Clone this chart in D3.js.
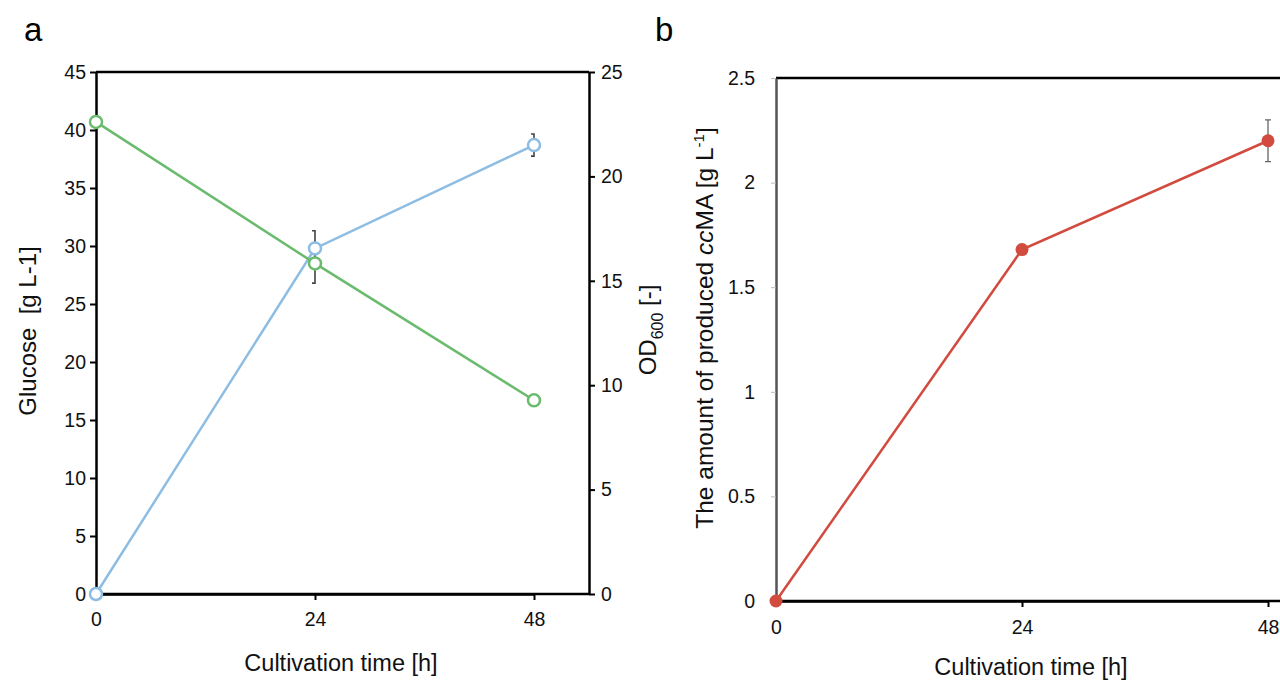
<!DOCTYPE html>
<html>
<head>
<meta charset="utf-8">
<script src="https://cdn.jsdelivr.net/npm/d3@7"></script>
<style>
  body { margin: 0; background: #fff; }
  svg { font-family: "Liberation Sans", Arial, sans-serif; }
</style>
</head>
<body>
<svg width="1280" height="682"></svg>
<script>
// time points (h)
var hours = [0, 24, 48];
// panel a: glucose (g/L) and OD600
var glucose = [40.7, 28.5, 16.7];
var glucoseErr = [0, 1.7, 0];
var od600 = [0, 16.55, 21.5];
var odErr = [0, 0.85, 0.53];
// panel b: ccMA produced (g/L)
var ccma = [0, 1.68, 2.2];
var ccmaErr = [0, 0, 0.1];

var xTicks = [0, 24, 48];
var glucoseTicks = [0, 5, 10, 15, 20, 25, 30, 35, 40, 45];
var odTicks = [0, 5, 10, 15, 20, 25];
var ccmaTicks = [0, 0.5, 1, 1.5, 2, 2.5];

var TICK_FS = 19.5;
var svg = d3.select('svg');

// ---------- panel a ----------
var ax = d3.scaleLinear().domain([0, 48]).range([96, 534]);
var ayL = d3.scaleLinear().domain([0, 45]).range([594, 72]);
var ayR = d3.scaleLinear().domain([0, 25]).range([594, 72]);
var aRight = 589;

var ga = svg.append('g');

// top border
ga.append('line').attr('x1', 96).attr('x2', aRight).attr('y1', 72).attr('y2', 72)
  .attr('stroke', '#000').attr('stroke-width', 2.5);

var axL = ga.append('g').attr('transform', 'translate(96,0)')
  .call(d3.axisLeft(ayL).tickValues(glucoseTicks).tickSize(6).tickSizeOuter(0));
var axR = ga.append('g').attr('transform', 'translate(' + aRight + ',0)')
  .call(d3.axisRight(ayR).tickValues(odTicks).tickSize(6).tickSizeOuter(0));
var axB = ga.append('g').attr('transform', 'translate(0,594)')
  .call(d3.axisBottom(ax).tickValues(xTicks).tickSize(6).tickSizeOuter(0));
// extend bottom axis to right border
ga.append('line').attr('x1', 96).attr('x2', aRight).attr('y1', 594).attr('y2', 594)
  .attr('stroke', '#000').attr('stroke-width', 2.5);

[axL, axR, axB].forEach(function(g){
  g.select('.domain').attr('stroke', '#000').attr('stroke-width', 2.5);
  g.selectAll('.tick line').attr('stroke', '#000').attr('stroke-width', 2);
  g.selectAll('.tick text').attr('font-size', TICK_FS).attr('fill', '#111')
    .attr('font-family', '"Liberation Sans", Arial, sans-serif');
});
axL.selectAll('.tick text').attr('x', -10);
axR.selectAll('.tick text').attr('x', 12);
axB.selectAll('.tick text').attr('y', 18);

// error bars (drawn beneath markers)
function errBars(g, xs, ys, errs, x, y, color) {
  hours.forEach(function(h, i){
    if (!errs[i]) return;
    var cx = x(h), y1 = y(ys[i] + errs[i]), y2 = y(ys[i] - errs[i]);
    g.append('path')
      .attr('d', 'M' + (cx - 3) + ',' + y1 + 'H' + cx + 'V' + y2 + 'H' + (cx - 3))
      .attr('fill', 'none').attr('stroke', color).attr('stroke-width', 1.6);
  });
}
errBars(ga, hours, od600, odErr, ax, ayR, '#444');
errBars(ga, hours, glucose, glucoseErr, ax, ayL, '#444');

var lineG = d3.line().x(function(d, i){ return ax(hours[i]); }).y(function(d){ return ayL(d); });
var lineO = d3.line().x(function(d, i){ return ax(hours[i]); }).y(function(d){ return ayR(d); });

ga.append('path').attr('d', lineO(od600)).attr('fill', 'none')
  .attr('stroke', '#8dbde3').attr('stroke-width', 2.5);
ga.append('path').attr('d', lineG(glucose)).attr('fill', 'none')
  .attr('stroke', '#6abb6e').attr('stroke-width', 2.5);

ga.selectAll('circle.od').data(od600).enter().append('circle')
  .attr('cx', function(d, i){ return ax(hours[i]); }).attr('cy', function(d){ return ayR(d); })
  .attr('r', 6).attr('fill', '#fff').attr('stroke', '#8dbde3').attr('stroke-width', 2.5);
ga.selectAll('circle.gl').data(glucose).enter().append('circle')
  .attr('cx', function(d, i){ return ax(hours[i]); }).attr('cy', function(d){ return ayL(d); })
  .attr('r', 6).attr('fill', '#fff').attr('stroke', '#6abb6e').attr('stroke-width', 2.5);

// titles
svg.append('text').attr('x', 24).attr('y', 41).attr('font-size', 33).text('a');
svg.append('text').attr('transform', 'translate(36,331) rotate(-90)')
  .attr('text-anchor', 'middle').attr('font-size', 24).attr('fill', '#111')
  .attr('xml:space', 'preserve').text('Glucose  [g L-1]');
var odt = svg.append('text').attr('transform', 'translate(656,330) rotate(-90)')
  .attr('text-anchor', 'middle').attr('font-size', 24).attr('fill', '#111');
odt.append('tspan').text('OD');
odt.append('tspan').attr('font-size', 16).attr('dy', 7).text('600');
odt.append('tspan').attr('dy', -7).text(' [-]');
svg.append('text').attr('x', 341).attr('y', 671).attr('text-anchor', 'middle')
  .attr('font-size', 23.5).attr('fill', '#111').text('Cultivation time [h]');

// ---------- panel b ----------
var bx = d3.scaleLinear().domain([0, 48]).range([776, 1268]);
var by = d3.scaleLinear().domain([0, 2.5]).range([601, 78]);

var gb = svg.append('g');
gb.append('line').attr('x1', 776).attr('x2', 1280).attr('y1', 78).attr('y2', 78)
  .attr('stroke', '#000').attr('stroke-width', 2.5);

var bL = gb.append('g').attr('transform', 'translate(776,0)')
  .call(d3.axisLeft(by).tickValues(ccmaTicks).tickSize(5).tickSizeOuter(0)
    .tickFormat(function(d){ return String(d); }));
bL.select('.domain').attr('stroke', '#555').attr('stroke-width', 2.5);
bL.selectAll('.tick line').attr('stroke', '#bbb').attr('stroke-width', 1);
bL.selectAll('.tick text').attr('font-size', TICK_FS).attr('fill', '#111').attr('x', -21)
  .attr('font-family', '"Liberation Sans", Arial, sans-serif');

var bB = gb.append('g').attr('transform', 'translate(0,601)')
  .call(d3.axisBottom(bx).tickValues(xTicks).tickSize(6).tickSizeOuter(0));
gb.append('line').attr('x1', 776).attr('x2', 1280).attr('y1', 601).attr('y2', 601)
  .attr('stroke', '#000').attr('stroke-width', 2.5);
bB.select('.domain').attr('stroke', '#000').attr('stroke-width', 2.5);
bB.selectAll('.tick line').attr('stroke', '#000').attr('stroke-width', 2);
bB.selectAll('.tick text').attr('font-size', TICK_FS).attr('fill', '#111').attr('y', 19)
  .attr('font-family', '"Liberation Sans", Arial, sans-serif');

hours.forEach(function(h, i){
  if (!ccmaErr[i]) return;
  var cx = bx(h), y1 = by(ccma[i] + ccmaErr[i]), y2 = by(ccma[i] - ccmaErr[i]);
  gb.append('path').attr('d', 'M' + (cx - 3) + ',' + y1 + 'H' + (cx + 3) + 'M' + cx + ',' + y1 +
      'V' + y2 + 'M' + (cx - 3) + ',' + y2 + 'H' + (cx + 3))
    .attr('fill', 'none').attr('stroke', '#666').attr('stroke-width', 1.3);
});

var lineC = d3.line().x(function(d, i){ return bx(hours[i]); }).y(function(d){ return by(d); });
gb.append('path').attr('d', lineC(ccma)).attr('fill', 'none')
  .attr('stroke', '#d24b3f').attr('stroke-width', 2.5);
gb.selectAll('circle').data(ccma).enter().append('circle')
  .attr('cx', function(d, i){ return bx(hours[i]); }).attr('cy', function(d){ return by(d); })
  .attr('r', 6.5).attr('fill', '#d24b3f');

svg.append('text').attr('x', 655).attr('y', 41).attr('font-size', 33).text('b');
var bt = svg.append('text').attr('transform', 'translate(713,328) rotate(-90)')
  .attr('text-anchor', 'middle').attr('font-size', 24.5).attr('fill', '#111');
bt.append('tspan').text('The amount of produced ');
bt.append('tspan').attr('font-style', 'italic').text('cc');
bt.append('tspan').text('MA [g L');
bt.append('tspan').attr('font-size', 15).attr('dy', -9).text('-1');
bt.append('tspan').attr('dy', 9).text(']');
svg.append('text').attr('x', 1031).attr('y', 675).attr('text-anchor', 'middle')
  .attr('font-size', 23.5).attr('fill', '#111').text('Cultivation time [h]');
</script>
</body>
</html>
